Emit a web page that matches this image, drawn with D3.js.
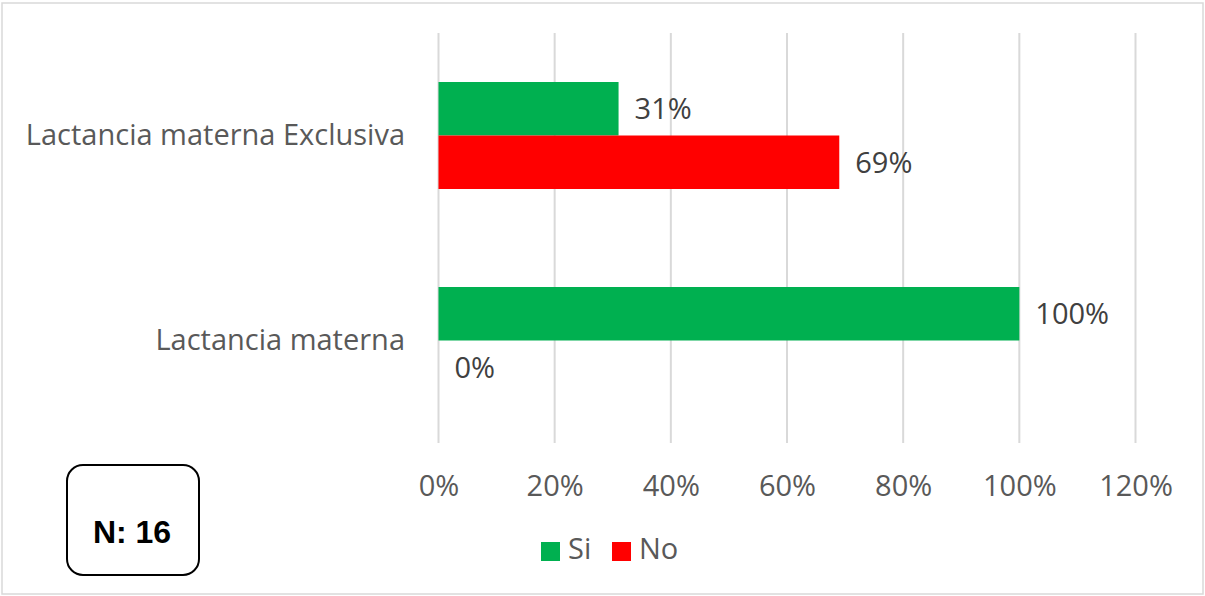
<!DOCTYPE html>
<html>
<head>
<meta charset="utf-8">
<script src="https://cdn.jsdelivr.net/npm/d3@7"></script>
<style>
  html, body { margin: 0; padding: 0; background: #fff; }
  svg { display: block; }
</style>
</head>
<body>
<svg id="chart" width="1205" height="596"></svg>
<script>
// Categories (top to bottom) and the two series
const categories = ["Lactancia materna Exclusiva", "Lactancia materna"];
const seriesNames = ["Si", "No"];
const siValues = [0.31, 1.00];
const noValues = [0.69, 0.00];
const tickValues = [0, 0.2, 0.4, 0.6, 0.8, 1.0, 1.2];
const sampleNote = "N: 16";

const colors = { Si: "#00b050", No: "#ff0000" };
const textColor = "#595959";
const labelColor = "#404040";
const gridColor = "#d9d9d9";
const bodyFont = "'Open Sans', 'Noto Sans', sans-serif";
const fontSize = 29;

const svg = d3.select("#chart");

// Outer chart frame
svg.append("rect")
  .attr("x", 2).attr("y", 3)
  .attr("width", 1201).attr("height", 591)
  .attr("fill", "#fff")
  .attr("stroke", gridColor)
  .attr("stroke-width", 1.5);

const plot = { left: 438.5, right: 1135.5, top: 33, bottom: 443 };

const x = d3.scaleLinear().domain([0, 1.2]).range([plot.left, plot.right]);
const y = d3.scaleBand().domain(categories).range([plot.top, plot.bottom]).padding(0);
const ySub = d3.scaleBand().domain(seriesNames).range([0, y.bandwidth()])
  .paddingInner(0).paddingOuter(0.916);

const rows = categories.map((c, i) => ({
  category: c,
  values: [
    { key: "Si", value: siValues[i] },
    { key: "No", value: noValues[i] }
  ]
}));

// Vertical gridlines
svg.append("g")
  .selectAll("line")
  .data(tickValues)
  .join("line")
  .attr("x1", d => x(d)).attr("x2", d => x(d))
  .attr("y1", plot.top).attr("y2", plot.bottom)
  .attr("stroke", gridColor)
  .attr("stroke-width", 2);

// X axis tick labels
const xAxis = d3.axisBottom(x)
  .tickValues(tickValues)
  .tickFormat(d3.format(".0%"))
  .tickSize(0)
  .tickPadding(0);
const gx = svg.append("g")
  .attr("transform", `translate(0, ${plot.bottom + 43.5})`)
  .call(xAxis);
gx.select(".domain").remove();
gx.selectAll("text")
  .attr("fill", textColor)
  .attr("font-size", fontSize)
  .attr("font-family", bodyFont)
  .attr("dy", "0.32em");

// Category labels
const yAxis = d3.axisLeft(y).tickSize(0).tickPadding(0);
const gy = svg.append("g")
  .attr("transform", `translate(405, 0)`)
  .call(yAxis);
gy.select(".domain").remove();
gy.selectAll("text")
  .attr("fill", textColor)
  .attr("font-size", fontSize)
  .attr("font-family", bodyFont)
  .attr("dy", "0.32em");

// Bars
const groups = svg.append("g")
  .selectAll("g")
  .data(rows)
  .join("g")
  .attr("transform", d => `translate(0, ${y(d.category)})`);

groups.selectAll("rect")
  .data(d => d.values)
  .join("rect")
  .attr("x", x(0))
  .attr("y", d => ySub(d.key))
  .attr("width", d => x(d.value) - x(0))
  .attr("height", ySub.bandwidth())
  .attr("fill", d => colors[d.key]);

// Data labels
groups.selectAll("text.val")
  .data(d => d.values)
  .join("text")
  .attr("class", "val")
  .attr("x", d => x(d.value) + 16)
  .attr("y", d => ySub(d.key) + ySub.bandwidth() / 2)
  .attr("dy", "0.36em")
  .attr("fill", labelColor)
  .attr("font-size", fontSize)
  .attr("font-family", bodyFont)
  .text(d => d3.format(".0%")(d.value));

// Legend
const legend = svg.append("g").attr("transform", "translate(541, 542)");
const legendItems = [
  { key: "Si", x: 0 },
  { key: "No", x: 71 }
];
legendItems.forEach(item => {
  legend.append("rect")
    .attr("x", item.x).attr("y", 0)
    .attr("width", 19).attr("height", 19)
    .attr("fill", colors[item.key]);
  legend.append("text")
    .attr("x", item.x + 27).attr("y", 17)
    .attr("fill", textColor)
    .attr("font-size", fontSize)
    .attr("font-family", bodyFont)
    .text(item.key);
});

// Sample size box
svg.append("rect")
  .attr("x", 67).attr("y", 465)
  .attr("width", 132).attr("height", 110)
  .attr("rx", 16).attr("ry", 16)
  .attr("fill", "#fff")
  .attr("stroke", "#000")
  .attr("stroke-width", 2);
svg.append("text")
  .attr("x", 132).attr("y", 543)
  .attr("text-anchor", "middle")
  .attr("font-family", "'Liberation Sans', Arial, sans-serif")
  .attr("font-weight", "bold")
  .attr("font-size", 32)
  .attr("fill", "#000")
  .text(sampleNote);
</script>
</body>
</html>
